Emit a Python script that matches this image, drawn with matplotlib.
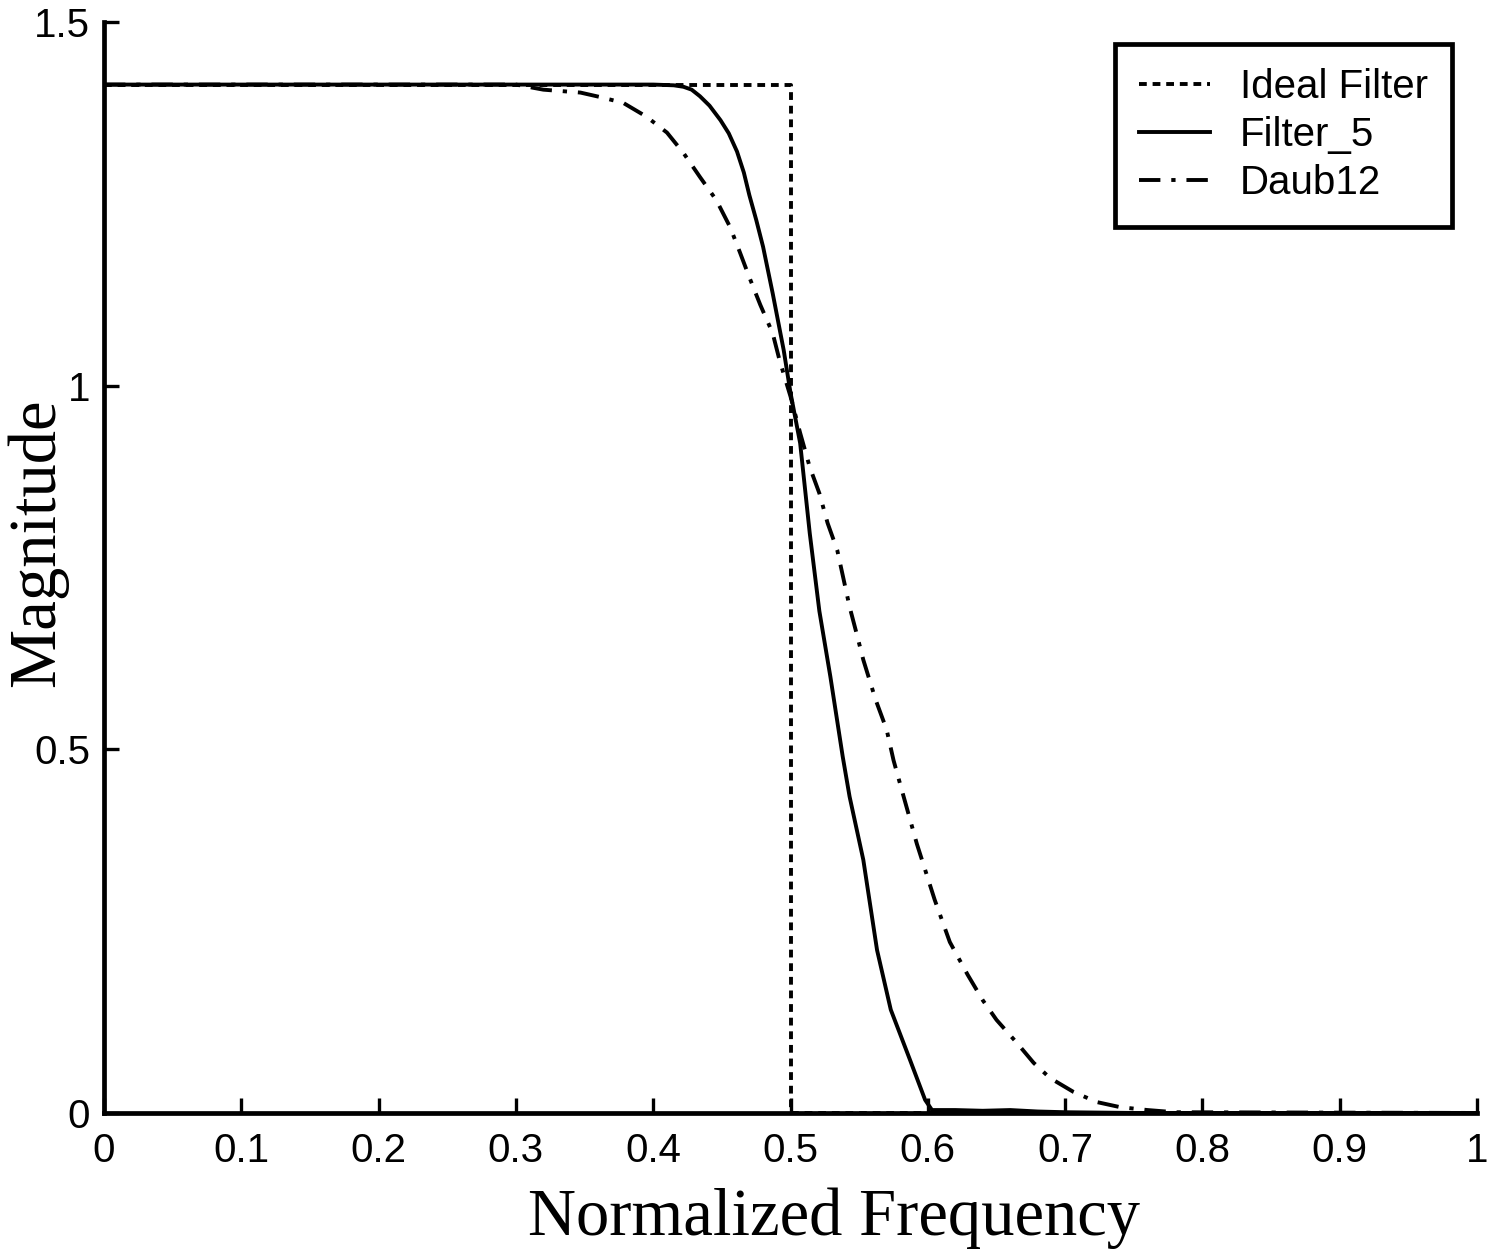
import matplotlib
matplotlib.use("Agg")
import matplotlib.pyplot as plt

# Ideal filter
ideal_x = [0.0, 0.5, 0.5, 1.0]
ideal_y = [1.414, 1.414, 0.0, 0.0]

# Filter_5
f5_x = [0.0, 0.40, 0.415, 0.422, 0.428, 0.434, 0.441, 0.449, 0.455, 0.461, 0.466,
        0.470, 0.475, 0.480, 0.487, 0.495,
        0.500, 0.507, 0.514, 0.521, 0.529, 0.538, 0.543, 0.553, 0.563, 0.573,
        0.587, 0.598, 0.603, 0.62, 0.64, 0.66, 0.68, 0.70, 0.75, 1.0]
f5_y = [1.414, 1.414, 1.413, 1.411, 1.407, 1.398, 1.385, 1.365, 1.347, 1.322, 1.293,
        1.262, 1.228, 1.191, 1.127, 1.049,
        0.990, 0.921, 0.797, 0.690, 0.600, 0.490, 0.435, 0.348, 0.224, 0.142,
        0.073, 0.018, 0.004, 0.004, 0.003, 0.004, 0.002, 0.001, 0.0, 0.0]

# Daub12
d12_x = [0.0, 0.30, 0.320, 0.347, 0.361, 0.378, 0.395, 0.410, 0.422, 0.434, 0.446,
         0.456, 0.463, 0.470, 0.478, 0.487, 0.492, 0.500, 0.507, 0.514, 0.521,
         0.527, 0.534, 0.543, 0.548, 0.553, 0.562, 0.570, 0.575, 0.580, 0.592,
         0.605, 0.616, 0.629, 0.640, 0.650, 0.665, 0.677, 0.689, 0.706, 0.723,
         0.740, 0.760, 0.78, 1.0]
d12_y = [1.414, 1.414, 1.407, 1.403, 1.397, 1.389, 1.370, 1.348, 1.320, 1.287, 1.255,
         1.218, 1.184, 1.149, 1.111, 1.072, 1.035, 0.985, 0.935, 0.888, 0.852,
         0.811, 0.774, 0.696, 0.660, 0.623, 0.568, 0.527, 0.485, 0.451, 0.370,
         0.293, 0.235, 0.190, 0.155, 0.128, 0.096, 0.069, 0.048, 0.029, 0.015,
         0.008, 0.004, 0.001, 0.0]


def main():
    fig = plt.figure(figsize=(14.92, 12.59), dpi=100)
    ax = fig.add_axes([0.0697, 0.116, 0.9203, 0.8665])

    ax.plot(ideal_x, ideal_y, color="black", lw=2.8, linestyle=(0, (2.0, 1.5)),
            label="Ideal Filter")
    ax.plot(f5_x, f5_y, color="black", lw=2.8, linestyle="-", label="Filter_5")
    ax.plot(d12_x, d12_y, color="black", lw=2.8, linestyle=(0, (5.5, 2.8, 1.1, 2.8)),
            label="Daub12")

    ax.set_xlim(0, 1)
    ax.set_ylim(0, 1.5)
    ax.set_xticks([i / 10 for i in range(11)])
    ax.set_xticklabels(["0", "0.1", "0.2", "0.3", "0.4", "0.5", "0.6", "0.7",
                        "0.8", "0.9", "1"])
    ax.set_yticks([0, 0.5, 1, 1.5])
    ax.set_yticklabels(["0", "0.5", "1", "1.5"])

    for side in ["top", "right"]:
        ax.spines[side].set_visible(False)
    for side in ["left", "bottom"]:
        ax.spines[side].set_linewidth(3.4)

    ax.tick_params(direction="in", length=11, width=2.4, labelsize=29,
                   colors="black")
    ax.tick_params(axis="x", pad=14)
    ax.tick_params(axis="y", pad=10)
    for lbl in ax.get_xticklabels() + ax.get_yticklabels():
        lbl.set_fontfamily("Liberation Sans")

    ax.set_xlabel("Normalized Frequency", family="Liberation Serif", fontsize=48)
    ax.xaxis.set_label_coords(0.532, -0.068)
    ax.set_ylabel("Magnitude", family="Liberation Serif", fontsize=48)
    ax.yaxis.set_label_coords(-0.026, 0.523)

    leg = ax.legend(loc="upper right", bbox_to_anchor=(0.9818, 0.9798),
                    borderaxespad=0,
                    prop={"family": "Liberation Sans", "size": 29},
                    frameon=True, fancybox=False, handlelength=1.75,
                    handletextpad=0.75, borderpad=0.6, labelspacing=0.25)
    leg.get_frame().set_edgecolor("black")
    leg.get_frame().set_linewidth(3.4)
    leg.get_frame().set_alpha(1)

    fig.savefig("out.png", dpi=100)


if __name__ == "__main__":
    main()
